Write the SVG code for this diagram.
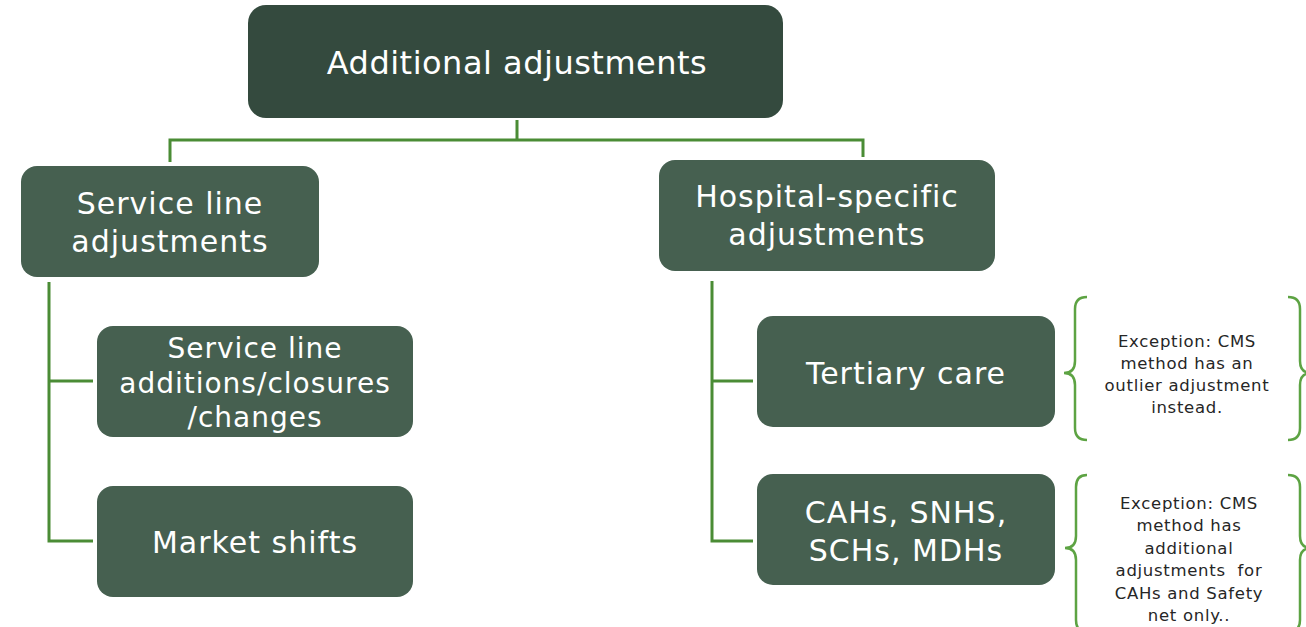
<svg xmlns="http://www.w3.org/2000/svg" width="1306" height="627" viewBox="0 0 1306 627">
<style>
.box{fill:#466050;}
.top{fill:#344a3e;}
.t{fill:#ffffff;font-family:"DejaVu Sans","Liberation Sans",sans-serif;text-anchor:middle;font-size:30px;letter-spacing:1px;}
.n{fill:#262626;font-family:"DejaVu Sans","Liberation Sans",sans-serif;text-anchor:middle;font-size:16.5px;letter-spacing:0.7px;}
.c{fill:none;stroke:#4a8c35;stroke-width:3;}
.b{fill:none;stroke:#5da343;stroke-width:2.5;}
</style>
<rect width="1306" height="627" fill="#ffffff"/>
<g id="connectors">
<path class="c" d="M517,120 V140 M170,162 V140 H863 V157"/>
<path class="c" d="M49,282 V541 H93 M49,381 H93"/>
<path class="c" d="M712,281 V541 H753 M712,381 H753"/>
</g>
<g id="root"><rect class="top" x="248" y="5" width="535" height="113" rx="18"/>
<text class="t" x="517" y="74" style="font-size:32px;letter-spacing:0.5px">Additional adjustments</text></g>
<g id="service-line"><rect class="box" x="21" y="166" width="298" height="111" rx="16"/>
<text class="t" x="170" y="214">Service line</text>
<text class="t" x="170" y="252">adjustments</text></g>
<g id="sl-changes"><rect class="box" x="97" y="326" width="316" height="111" rx="16"/>
<text class="t" x="255" y="358" style="font-size:28px">Service line</text>
<text class="t" x="255" y="393" style="font-size:28px">additions/closures</text>
<text class="t" x="255" y="427" style="font-size:28px">/changes</text></g>
<g id="market"><rect class="box" x="97" y="486" width="316" height="111" rx="16"/>
<text class="t" x="255" y="553">Market shifts</text></g>
<g id="hospital"><rect class="box" x="659" y="160" width="336" height="111" rx="16"/>
<text class="t" x="827" y="207">Hospital-specific</text>
<text class="t" x="827" y="245">adjustments</text></g>
<g id="tertiary"><rect class="box" x="757" y="316" width="298" height="111" rx="16"/>
<text class="t" x="906" y="384">Tertiary care</text></g>
<g id="cahs"><rect class="box" x="757" y="474" width="298" height="111" rx="16"/>
<text class="t" x="906" y="523">CAHs, SNHS,</text>
<text class="t" x="906" y="561">SCHs, MDHs</text></g>
<g id="note1">
<path class="b" d="M1087,297 Q1075,297 1075,309 V361 Q1075,373 1064,373 Q1075,373 1075,385 V428 Q1075,440 1087,440"/>
<path class="b" d="M1288,297 Q1300,297 1300,309 V361 Q1300,373 1311,373 Q1300,373 1300,385 V428 Q1300,440 1288,440"/>
<text class="n" x="1187" y="347">Exception: CMS</text>
<text class="n" x="1187" y="369">method has an</text>
<text class="n" x="1187" y="391">outlier adjustment</text>
<text class="n" x="1187" y="413">instead.</text>
</g>
<g id="note2">
<path class="b" d="M1087,475 Q1076,475 1076,487 V536 Q1076,548 1065,548 Q1076,548 1076,560 V620 Q1076,632 1087,632"/>
<path class="b" d="M1288,475 Q1300,475 1300,487 V536 Q1300,548 1311,548 Q1300,548 1300,560 V620 Q1300,632 1288,632"/>
<text class="n" x="1189" y="509">Exception: CMS</text>
<text class="n" x="1189" y="531">method has</text>
<text class="n" x="1189" y="554">additional</text>
<text class="n" x="1189" y="576" style="white-space:pre">adjustments  for</text>
<text class="n" x="1189" y="599">CAHs and Safety</text>
<text class="n" x="1189" y="621">net only..</text>
</g>
</svg>
